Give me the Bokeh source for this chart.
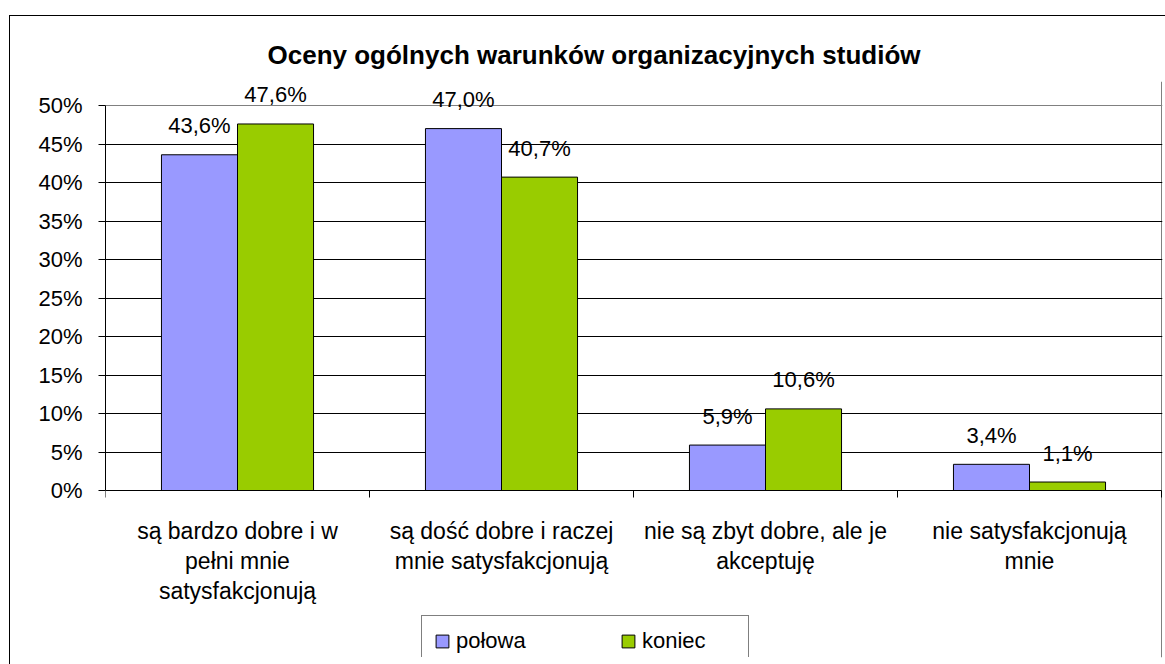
from bokeh.plotting import figure
from bokeh.models import (ColumnDataSource, Range1d, FixedTicker, LabelSet, Legend, LegendItem,
                          Title, Grid)
from bokeh.core.properties import value
from bokeh.transform import dodge
from bokeh.embed import file_html
from bokeh.resources import INLINE

title_text = "Oceny ogólnych warunków organizacyjnych studiów"
categories = [
    "są bardzo dobre i w\npełni mnie\nsatysfakcjonują",
    "są dość dobre i raczej\nmnie satysfakcjonują",
    "nie są zbyt dobre, ale je\nakceptuję",
    "nie satysfakcjonują\nmnie",
]
series_names = ["połowa", "koniec"]
polowa = [43.6, 47.0, 5.9, 3.4]
koniec = [47.6, 40.7, 10.6, 1.1]
y_ticks = [0, 5, 10, 15, 20, 25, 30, 35, 40, 45, 50]
y_tick_labels = ["0%", "5%", "10%", "15%", "20%", "25%", "30%", "35%", "40%", "45%", "50%"]

FONT = "Liberation Sans"
FS = "22px"
C1 = "#9999FF"
C2 = "#99CC00"
GRAY = "#808080"

def fmt(v):
    return f"{v:.1f}".replace(".", ",") + "%"

n = len(categories)
centers = [i + 0.5 for i in range(n)]
bounds_x = list(range(n + 1))
cat_lines = [c.split("\n") for c in categories]
max_lines = max(len(l) for l in cat_lines)

data = dict(
    x=centers,
    zero=[0] * n,
    polowa=polowa,
    koniec=koniec,
    polowa_lbl=[fmt(v) for v in polowa],
    koniec_lbl=[fmt(v) for v in koniec],
)
for k in range(max_lines):
    data[f"line{k}"] = [l[k] if k < len(l) else "" for l in cat_lines]
src = ColumnDataSource(data)

# ---- layout in canvas pixels ----
W, H = 1156, 649
B_LEFT, B_RIGHT, B_TOP, B_BOTTOM = 95, 4, 65, 8
frame_w = W - B_LEFT - B_RIGHT
y50_px, y0_px = 89, 474            # canvas rows of 50% and 0%
px_per_unit = (y0_px - y50_px) / (y_ticks[-1] - y_ticks[0])
y_top = y_ticks[-1] + (y50_px - B_TOP) / px_per_unit
y_bot = y_ticks[0] - (H - B_BOTTOM - y0_px) / px_per_unit
x_end = n * frame_w / (frame_w - 1)

p = figure(width=W, height=H, output_backend="svg", toolbar_location=None,
           x_range=Range1d(0, x_end), y_range=Range1d(y_bot, y_top),
           min_border_left=B_LEFT, min_border_right=B_RIGHT, min_border_top=B_TOP,
           min_border_bottom=B_BOTTOM, margin=(15, 0, 0, 9))
p.styles = {"border-left": "1px solid black", "border-top": "1px solid black"}
p.background_fill_color = "white"
p.border_fill_color = "white"
p.outline_line_color = None

bw = 0.288
r1 = p.vbar(x=dodge("x", -bw / 2, range=p.x_range), top="polowa", width=bw, source=src,
            fill_color=C1, line_color="black", line_width=1)
r2 = p.vbar(x=dodge("x", bw / 2, range=p.x_range), top="koniec", width=bw, source=src,
            fill_color=C2, line_color="black", line_width=1)

# title
p.title = Title(text=title_text, align="left", offset=162, standoff=24,
                text_font=FONT, text_font_size="26px", text_font_style="bold", text_color="black")

# y axis
p.yaxis.ticker = FixedTicker(ticks=y_ticks)
p.yaxis.bounds = (y_ticks[0], y_ticks[-1])
p.yaxis.major_label_overrides = {t: l for t, l in zip(y_ticks, y_tick_labels)}
p.yaxis.major_label_text_font = FONT
p.yaxis.major_label_text_font_size = FS
p.yaxis.major_label_text_color = "black"
p.yaxis.major_tick_out = 7
p.yaxis.major_tick_in = 0
p.yaxis.minor_tick_line_color = None
p.yaxis.major_label_standoff = 16
p.yaxis.axis_line_color = "black"
p.yaxis.major_tick_line_color = "black"

# x axis drawn at 0%, tick marks at category boundaries
p.xaxis.fixed_location = 0
p.xaxis.ticker = FixedTicker(ticks=bounds_x)
p.xaxis.bounds = (bounds_x[0], bounds_x[-1])
p.xaxis.major_label_overrides = {b: "" for b in bounds_x}
p.xaxis.major_label_text_font_size = "1px"
p.xaxis.major_label_standoff = 0
p.xaxis.major_tick_out = 7
p.xaxis.major_tick_in = 0
p.xaxis.minor_tick_line_color = None
p.xaxis.axis_line_color = "black"
p.xaxis.major_tick_line_color = "black"

# grid: black horizontal lines, gray frame on top and right of the 0..50 area
p.xgrid.ticker = FixedTicker(ticks=[bounds_x[-1]])
p.xgrid.bounds = (y_ticks[0], y_ticks[-1])
p.xgrid.grid_line_color = GRAY
p.ygrid.ticker = FixedTicker(ticks=y_ticks[1:-1])
p.ygrid.bounds = (bounds_x[0], bounds_x[-1])
p.ygrid.grid_line_color = "black"
p.add_layout(Grid(dimension=1, ticker=FixedTicker(ticks=[y_ticks[-1]]),
                  bounds=(bounds_x[0], bounds_x[-1]), grid_line_color=GRAY))

# data labels
for col, off in (("polowa", -bw / 2), ("koniec", bw / 2)):
    p.add_layout(LabelSet(x=dodge("x", off, range=p.x_range), y=col, text=col + "_lbl", source=src,
                          y_offset=29, text_align="center", text_baseline="middle",
                          text_font=value(FONT), text_font_size=FS, text_color="black"))

# category labels under the axis, one centred line at a time
for k in range(max_lines):
    p.add_layout(LabelSet(x="x", y="zero", text=f"line{k}", source=src, y_offset=-40 - 30 * k,
                          text_align="center", text_baseline="middle",
                          text_font=value(FONT), text_font_size="23px", text_color="black"))

# legend
legend = Legend(items=[LegendItem(label=series_names[0], renderers=[r1]),
                       LegendItem(label=series_names[1], renderers=[r2])],
                orientation="horizontal", location=(316, -10), padding=12, margin=0,
                glyph_width=16, glyph_height=16, label_standoff=6, label_width=94, spacing=70,
                border_line_color="black", border_line_width=1, background_fill_color="white",
                label_text_font=FONT, label_text_font_size=FS, label_text_color="black")
p.add_layout(legend, "center")

open("out.html", "w").write(file_html(p, INLINE))
